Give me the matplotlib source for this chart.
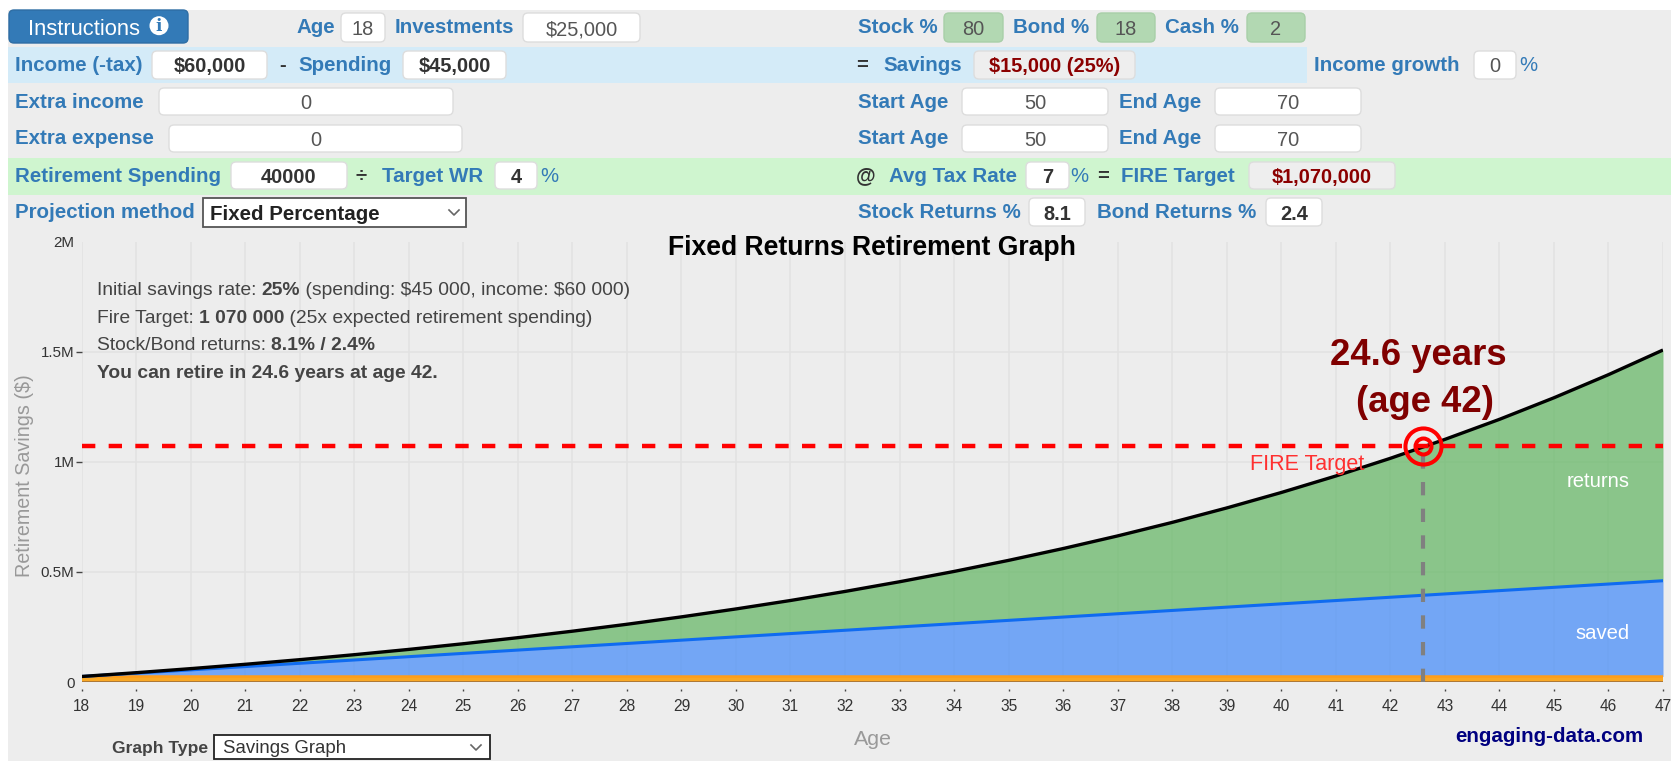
import matplotlib
matplotlib.use("Agg")
import matplotlib.pyplot as plt
from matplotlib.patches import FancyBboxPatch, Rectangle, Circle

plt.rcParams['font.family'] = ['Liberation Sans', 'DejaVu Sans']

# Valores
ages = [18, 19, 20, 21, 22, 23, 24, 25, 26, 27, 28, 29, 30, 31, 32,
        33, 34, 35, 36, 37, 38, 39, 40, 41, 42, 43, 44, 45, 46, 47]
total_savings = [25000, 42200, 60700, 80400, 101400, 124000, 148000, 173800, 201300, 230700,
                 262200, 295800, 331800, 370200, 411300, 455300, 502200, 552500, 606200, 663600,
                 724900, 790600, 860700, 935700, 1016000, 1102000, 1193000, 1291000, 1396000, 1508000]
saved = [25000, 40000, 55000, 70000, 85000, 100000, 115000, 130000, 145000, 160000,
         175000, 190000, 205000, 220000, 235000, 250000, 265000, 280000, 295000, 310000,
         325000, 340000, 355000, 370000, 385000, 400000, 415000, 430000, 445000, 460000]
cash = [25000, 25000, 25000, 25000, 25000, 25000, 25000, 25000, 25000, 25000,
        25000, 25000, 25000, 25000, 25000, 25000, 25000, 25000, 25000, 25000,
        25000, 25000, 25000, 25000, 25000, 25000, 25000, 25000, 25000, 25000]
fire_target = 1070000
retire_age = 42.6
y_ticks = [0, 500000, 1000000, 1500000, 2000000]
y_tick_labels = ['0', '0.5M', '1M', '1.5M', '2M']

# Panel de controles: (izquierda, derecha, fila, texto)
labels = [
    (296, 'Age', 0), (395, 'Investments', 0), (858, 'Stock %', 0), (1013, 'Bond %', 0), (1165, 'Cash %', 0),
    (15, 'Income (-tax)', 1), (298, 'Spending', 1), (883, 'Savings', 1), (1314, 'Income growth', 1),
    (15, 'Extra income', 2), (858, 'Start Age', 2), (1119, 'End Age', 2),
    (15, 'Extra expense', 3), (858, 'Start Age', 3), (1119, 'End Age', 3),
    (15, 'Retirement Spending', 4), (382, 'Target WR', 4), (889, 'Avg Tax Rate', 4), (1121, 'FIRE Target', 4),
    (15, 'Projection method', 5), (858, 'Stock Returns %', 5), (1097, 'Bond Returns %', 5),
]
symbols = [(279, '-', 1), (856, '=', 1), (356, '÷', 4), (856, '@', 4), (1097, '=', 4)]
percents = [(1519, 1), (540, 4), (1070, 4)]
fields = [
    (341, 385, 0, '18', 'plain'), (523, 640, 0, '$25,000', 'plain'),
    (944, 1003, 0, '80', 'alloc'), (1097, 1155, 0, '18', 'alloc'), (1247, 1305, 0, '2', 'alloc'),
    (152, 267, 1, '$60,000', 'bold'), (403, 506, 1, '$45,000', 'bold'),
    (974, 1135, 1, '$15,000 (25%)', 'result'), (1474, 1516, 1, '0', 'plain'),
    (159, 453, 2, '0', 'plain'), (962, 1108, 2, '50', 'plain'), (1215, 1361, 2, '70', 'plain'),
    (169, 462, 3, '0', 'plain'), (962, 1108, 3, '50', 'plain'), (1215, 1361, 3, '70', 'plain'),
    (231, 347, 4, '40000', 'bold'), (495, 537, 4, '4', 'bold'), (1026, 1069, 4, '7', 'bold'),
    (1249, 1395, 4, '$1,070,000', 'result'),
    (1029, 1085, 5, '8.1', 'bold'), (1266, 1322, 5, '2.4', 'bold'),
]
row_top = [13, 51, 88, 125, 162, 198]
row_bottom = [42, 79, 115, 152, 189, 226]
label_base = [33, 71, 107.5, 144, 181.5, 218]
field_base = [35, 72, 109, 146, 183, 220]

LABEL_BLUE = '#337ab7'
fig = plt.figure(figsize=(16.71, 7.61), dpi=100, facecolor='white')

# capa de fondo en pixeles
ui = fig.add_axes([0, 0, 1, 1], zorder=0)
ui.set_xlim(0, 1671)
ui.set_ylim(761, 0)
ui.axis('off')
ui.add_patch(Rectangle((8, 10), 1663, 751, color='#ededed', lw=0))
ui.add_patch(Rectangle((8, 47), 1299, 36, color='#d4ebf8', lw=0))
ui.add_patch(Rectangle((8, 158), 1663, 37, color='#cff5cf', lw=0))


def caja(x0, x1, y0, y1, color, borde, rad=5, lw=1):
    ui.add_patch(FancyBboxPatch((x0 + rad, y0 + rad), x1 - x0 - 2 * rad, y1 - y0 - 2 * rad,
                                boxstyle='round,pad=%d,rounding_size=%d' % (rad, rad),
                                fc=color, ec=borde, lw=lw))


caja(9, 188, 10, 43, LABEL_BLUE, '#2e6da4')
ui.text(84, 35, 'Instructions', color='white', fontsize=15.8, ha='center', va='baseline')
ui.add_patch(Circle((159, 25.7), 9.5, color='white', lw=0))
ui.text(159, 31, 'i', color=LABEL_BLUE, fontsize=12, fontweight='bold', family='DejaVu Serif',
        ha='center', va='baseline')

for x, txt, fila in labels:
    ui.text(x, label_base[fila], txt, color=LABEL_BLUE, fontsize=14.8, fontweight='bold', va='baseline')
for x, txt, fila in symbols:
    ui.text(x, label_base[fila], txt, color='#333333', fontsize=14.6, fontweight='bold', va='baseline')
for x, fila in percents:
    ui.text(x, label_base[fila], '%', color=LABEL_BLUE, fontsize=14.6, va='baseline')

estilos = {
    'plain': ('white', '#dddddd', '#555555', 'normal'),
    'bold': ('white', '#dddddd', '#333333', 'bold'),
    'alloc': ('#b2d8b2', '#a8cfa8', '#555555', 'normal'),
    'result': ('#eeeeee', '#dddddd', '#8b0000', 'bold'),
}
for x0, x1, fila, txt, estilo in fields:
    fondo, borde, color, peso = estilos[estilo]
    caja(x0, x1, row_top[fila], row_bottom[fila], fondo, borde)
    ui.text((x0 + x1) / 2, field_base[fila], txt, color=color, fontsize=14.4, fontweight=peso,
            ha='center', va='baseline')

# selects
ui.add_patch(Rectangle((202.5, 198), 263.5, 29, fc='white', ec='#555555', lw=1.3))
ui.text(209.5, 220, 'Fixed Percentage', color='#222222', fontsize=14.8, fontweight='bold', va='baseline')
ui.plot([449, 454, 459], [210, 215, 210], color='#666666', lw=1.2)
ui.text(112, 753, 'Graph Type', color='#444444', fontsize=12.6, fontweight='bold', va='baseline')
ui.add_patch(Rectangle((214, 735), 276, 24, fc='white', ec='#222222', lw=1.3))
ui.text(223, 753, 'Savings Graph', color='#333333', fontsize=13.4, va='baseline')
ui.plot([471, 476, 481], [745, 750, 745], color='#666666', lw=1.2)

# grafico
ax = fig.add_axes([81.5 / 1671, 1 - 682 / 761, (1663 - 81.5) / 1671, 440.3 / 761], zorder=1)
ax.patch.set_visible(False)
ax.set_xlim(18, 47)
ax.set_ylim(0, 2000000)
for s in ax.spines.values():
    s.set_visible(False)
ax.spines['bottom'].set_position(('outward', 5))

ax.set_xticks(ages)
ax.set_yticks(y_ticks)
ax.set_yticklabels(y_tick_labels)
ax.tick_params(axis='x', length=1.5, width=1, color='#444444', pad=6, labelsize=11.2, labelcolor='#333333')
ax.tick_params(axis='y', length=4, width=1, color='#444444', pad=1, labelsize=10.9, labelcolor='#333333')
ax.grid(True, color='#e2e2e2', lw=1.1, zorder=0)
ax.set_axisbelow(True)
ax.get_ygridlines()[0].set_visible(False)
ax.get_ygridlines()[4].set_visible(False)
ax.yaxis.get_major_ticks()[0].tick1line.set_visible(False)
ax.yaxis.get_major_ticks()[4].tick1line.set_visible(False)

ax.fill_between(ages, saved, total_savings, color='#60b560', alpha=0.7, lw=0)
ax.fill_between(ages, cash, saved, color='#4089f9', alpha=0.7, lw=0)
ax.fill_between(ages, 0, cash, color='#f9a825', lw=0)
ax.plot(ages, [0] * len(ages), color='#a0703a', lw=1.2)
ax.plot(ages, cash, color='#ff9d1a', lw=1.8)
ax.plot(ages, saved, color='#0f6bf0', lw=2.2)
ax.plot(ages, total_savings, color='black', lw=2.4, solid_capstyle='butt')

ax.plot([18, 47], [fire_target, fire_target], color='red', lw=3.2, dashes=(3, 3))
ax.plot([retire_age, retire_age], [0, fire_target], color='#808080', lw=3, dashes=(3.2, 3.2))
ax.plot([retire_age], [fire_target], marker='o', ms=26, mfc='none', mec='red', mew=2.9)
ax.plot([retire_age], [fire_target], marker='o', ms=11.5, mfc='none', mec='red', mew=2.9)

ax.set_title('Fixed Returns Retirement Graph', fontsize=19.1, fontweight='bold', color='black', y=0.97, pad=0)
ax.text(42.52, 1440000, '24.6 years', color='#800000', fontsize=26.3, fontweight='bold', ha='center', va='baseline')
ax.text(42.63, 1227000, '(age 42)', color='#800000', fontsize=26.3, fontweight='bold', ha='center', va='baseline')
ax.text(41.53, 964000, 'FIRE Target', color='#ff3030', fontsize=15.5, ha='right', va='baseline')
ax.text(46.38, 886000, 'returns', color='white', fontsize=14.6, ha='right', va='baseline')
ax.text(46.38, 195000, 'saved', color='white', fontsize=14.6, ha='right', va='baseline')

ui.text(25, 476, 'Retirement Savings ($)', color='#999999', fontsize=14.2, rotation=90, ha='center', va='center')
ui.text(873, 745, 'Age', color='#999999', fontsize=15.4, ha='center', va='baseline')
ui.text(1455, 742, 'engaging-data.com', color='#000080', fontsize=14.8, fontweight='bold', va='baseline')

# texto informativo con partes en negrita
info_lines = [
    (295, [('Initial savings rate: ', 'normal'), ('25%', 'bold'), (' (spending: \\$45 000, income: \\$60 000)', 'normal')]),
    (323, [('Fire Target: ', 'normal'), ('1 070 000', 'bold'), (' (25x expected retirement spending)', 'normal')]),
    (350, [('Stock/Bond returns: ', 'normal'), ('8.1% / 2.4%', 'bold')]),
    (378, [('You can retire in 24.6 years at age 42.', 'bold')]),
]
renderer = fig.canvas.get_renderer()


def ancho(txt, peso):
    t = ui.text(0, 0, txt + '|', fontsize=13.9, fontweight=peso)
    b = ui.text(0, 0, '|', fontsize=13.9, fontweight=peso)
    w = t.get_window_extent(renderer).width - b.get_window_extent(renderer).width
    t.remove()
    b.remove()
    return w


for y, partes in info_lines:
    x = 97
    for txt, peso in partes:
        ax.text(x, y, txt, transform=ui.transData, color='#444444', fontsize=13.9, fontweight=peso,
                va='baseline', clip_on=False, zorder=6)
        x += ancho(txt, peso)

fig.savefig('out.png', dpi=100)
